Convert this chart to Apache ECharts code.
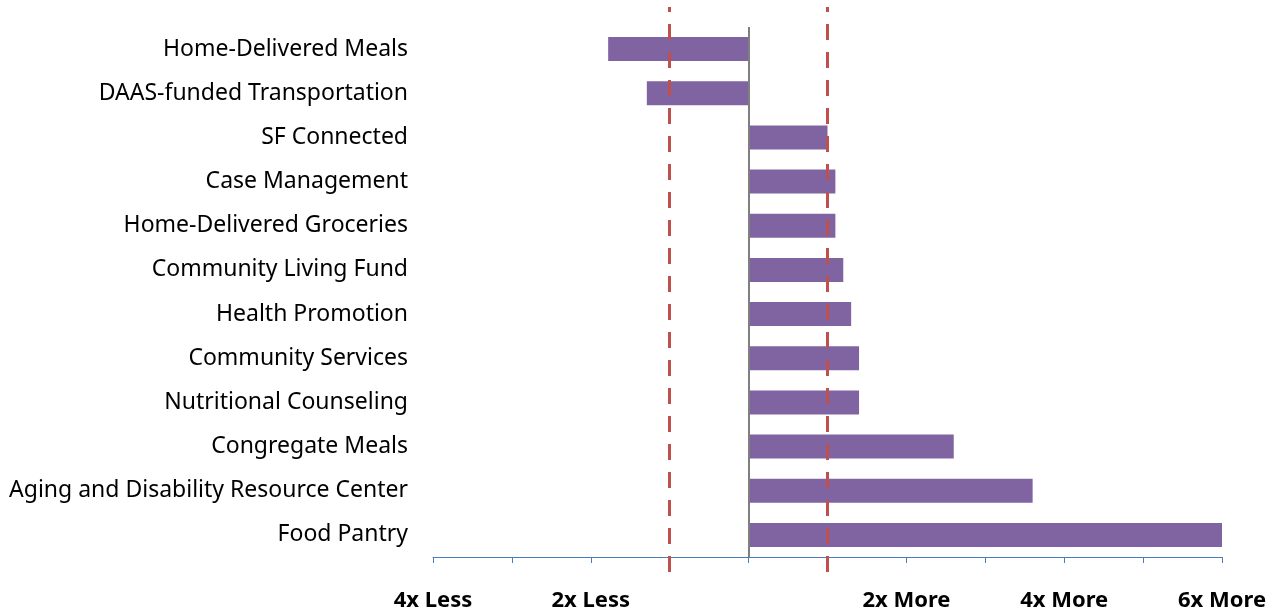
<!DOCTYPE html>
<html><head><meta charset="utf-8">
<script src="https://cdn.jsdelivr.net/npm/echarts@6/dist/echarts.min.js"></script>
<style>html,body{margin:0;padding:0;background:#fff}#c{width:1274px;height:614px}</style>
</head><body><div id="c"></div>
<script>
const categories = ["Home-Delivered Meals","DAAS-funded Transportation","SF Connected","Case Management","Home-Delivered Groceries","Community Living Fund","Health Promotion","Community Services","Nutritional Counseling","Congregate Meals","Aging and Disability Resource Center","Food Pantry"];
const values = [-1.78, -1.29, 1.0, 1.1, 1.1, 1.2, 1.3, 1.4, 1.4, 2.6, 3.6, 6.0];
const tickLabels = {"-4":"4x Less","-2":"2x Less","2":"2x More","4":"4x More","6":"6x More"};
const thresholds = [-1, 1];
const xMin = -4, xMax = 6;

const chart = echarts.init(document.getElementById('c'), null, {renderer:'canvas'});
const font = 'Noto Sans';
chart.setOption({
  animation:false,
  grid:[
    {left:433, right:52, top:27, bottom:57, containLabel:false},
    {left:433, right:52, top:7, bottom:42, containLabel:false}
  ],
  xAxis:[
    {gridIndex:0, type:'value', min:xMin, max:xMax, interval:1,
     axisLine:{show:true, onZero:false, lineStyle:{color:'#4a7ebb', width:1}},
     axisTick:{show:true, length:6, lineStyle:{color:'#4a7ebb'}},
     splitLine:{show:false},
     axisLabel:{margin:33, fontFamily:font, fontWeight:'bold', fontSize:22, color:'#000',
       formatter:v=>tickLabels[String(v)]||''}},
    {gridIndex:1, type:'value', min:xMin, max:xMax, show:false}
  ],
  yAxis:[
    {gridIndex:0, type:'category', data:categories, inverse:true,
     axisLine:{show:false}, axisTick:{show:false},
     axisLabel:{margin:25, fontFamily:font, fontSize:23, color:'#000', padding:[5,0,0,0]}},
    {gridIndex:1, type:'value', min:0, max:1, show:false}
  ],
  series:[
    {type:'bar', xAxisIndex:0, yAxisIndex:0, data:values, barWidth:24,
     itemStyle:{color:'#8064a2'},
     markLine:{silent:true, symbol:'none', label:{show:false},
       lineStyle:{color:'#7f7f7f', width:2, type:'solid'},
       data:[{xAxis:0}]}},
    {type:'line', xAxisIndex:1, yAxisIndex:1, data:[], z:5,
     markLine:{silent:true, symbol:'none', label:{show:false},
       lineStyle:{color:'#c0504d', width:3, type:[16,12]},
       data:thresholds.map(t=>({xAxis:t}))}}
  ]
});
</script></body></html>
